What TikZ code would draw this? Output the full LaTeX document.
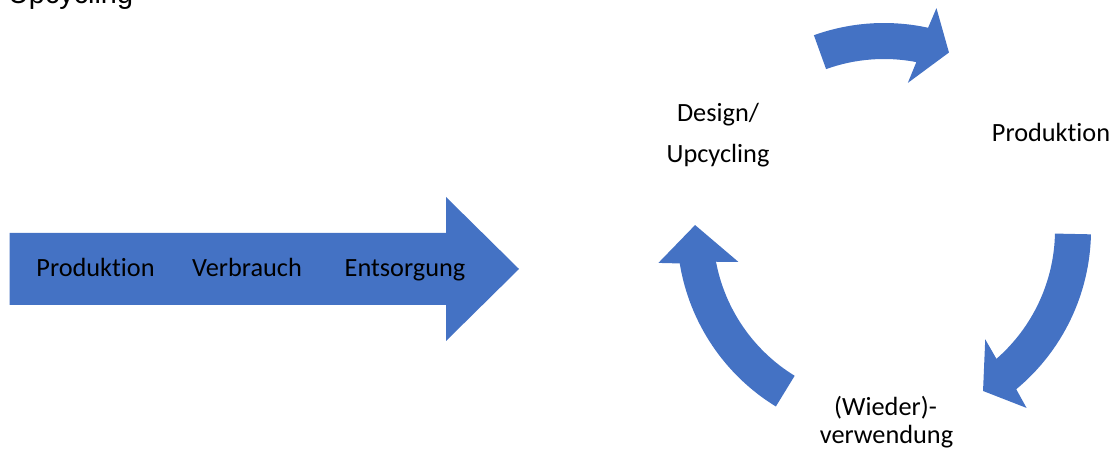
\documentclass[tikz,border=0pt]{standalone}
\usepackage{fontspec}
\setmainfont{Carlito}[Ligatures=NoCommon]
\newfontfamily\arialfont{Liberation Sans}
\usetikzlibrary{positioning}
\definecolor{officeblue}{HTML}{4472C4}
\def\myouter{207}
\def\myinner{171}
\def\mymid{189}
\def\mywingout{228}
\def\mywingin{149}
% curved arrow of the cycle: #1 tail angle, #2 head base angle, #3 tip angle
\newcommand{\cyclearrow}[3]{%
  \fill[cycle arrow] (#1:\myouter) arc[start angle=#1, end angle=#2-0.8, radius=\myouter]
    -- (#2-1.8:\mywingout) -- (#3:\mymid) -- (#2+2.3:\mywingin)
    -- (#2+0.6:\myinner) arc[start angle=#2+0.6, end angle=#1, radius=\myinner] -- cycle;}
\tikzset{
  cycle arrow/.style={
    fill=officeblue
  },
  my label/.style={
    anchor=base,
    inner sep=0pt,
    text=black
  },
  title label/.style={
    my label,
    anchor=base west,
    font=\arialfont\fontsize{28.8}{34}\selectfont
  }
}
\begin{document}
\begin{tikzpicture}[x=1pt, y=1pt, font=\fontsize{26.3}{31}\selectfont]
\useasboundingbox (0,0) rectangle (1115,449);
\node[title label] (title) at (8,445) {Upcycling};
% linear chain
\fill[cycle arrow] (9.5,144) -- (446,144) -- (446,108) -- (519,180)
  -- (446,252) -- (446,216) -- (9.5,216) -- cycle;
\node[my label] (prodlin) at (95.5,172) {Produktion};
\node[my label] (verb) at (247,172) {Verbrauch};
\node[my label] (ents) at (405,172) {Entsorgung};
% cycle
\coordinate (cyc) at (884,219);
\begin{scope}[shift={(cyc)}]
  \cyclearrow{109.8}{78.5}{69.9}
  \cyclearrow{-1.2}{-49.5}{-58.4}
  \cyclearrow{238.5}{190.1}{178.5}
\end{scope}
\node[my label] (design) at (718,327) {Design/};
\node[my label] (upcyc) at (718,286) {Upcycling};
\node[my label] (prodcyc) at (1051,307) {Produktion};
\node[my label] (wieder) at (885.5,33) {(Wieder)-};
\node[my label] (verw) at (886.5,5) {verwendung};
\end{tikzpicture}
\end{document}
